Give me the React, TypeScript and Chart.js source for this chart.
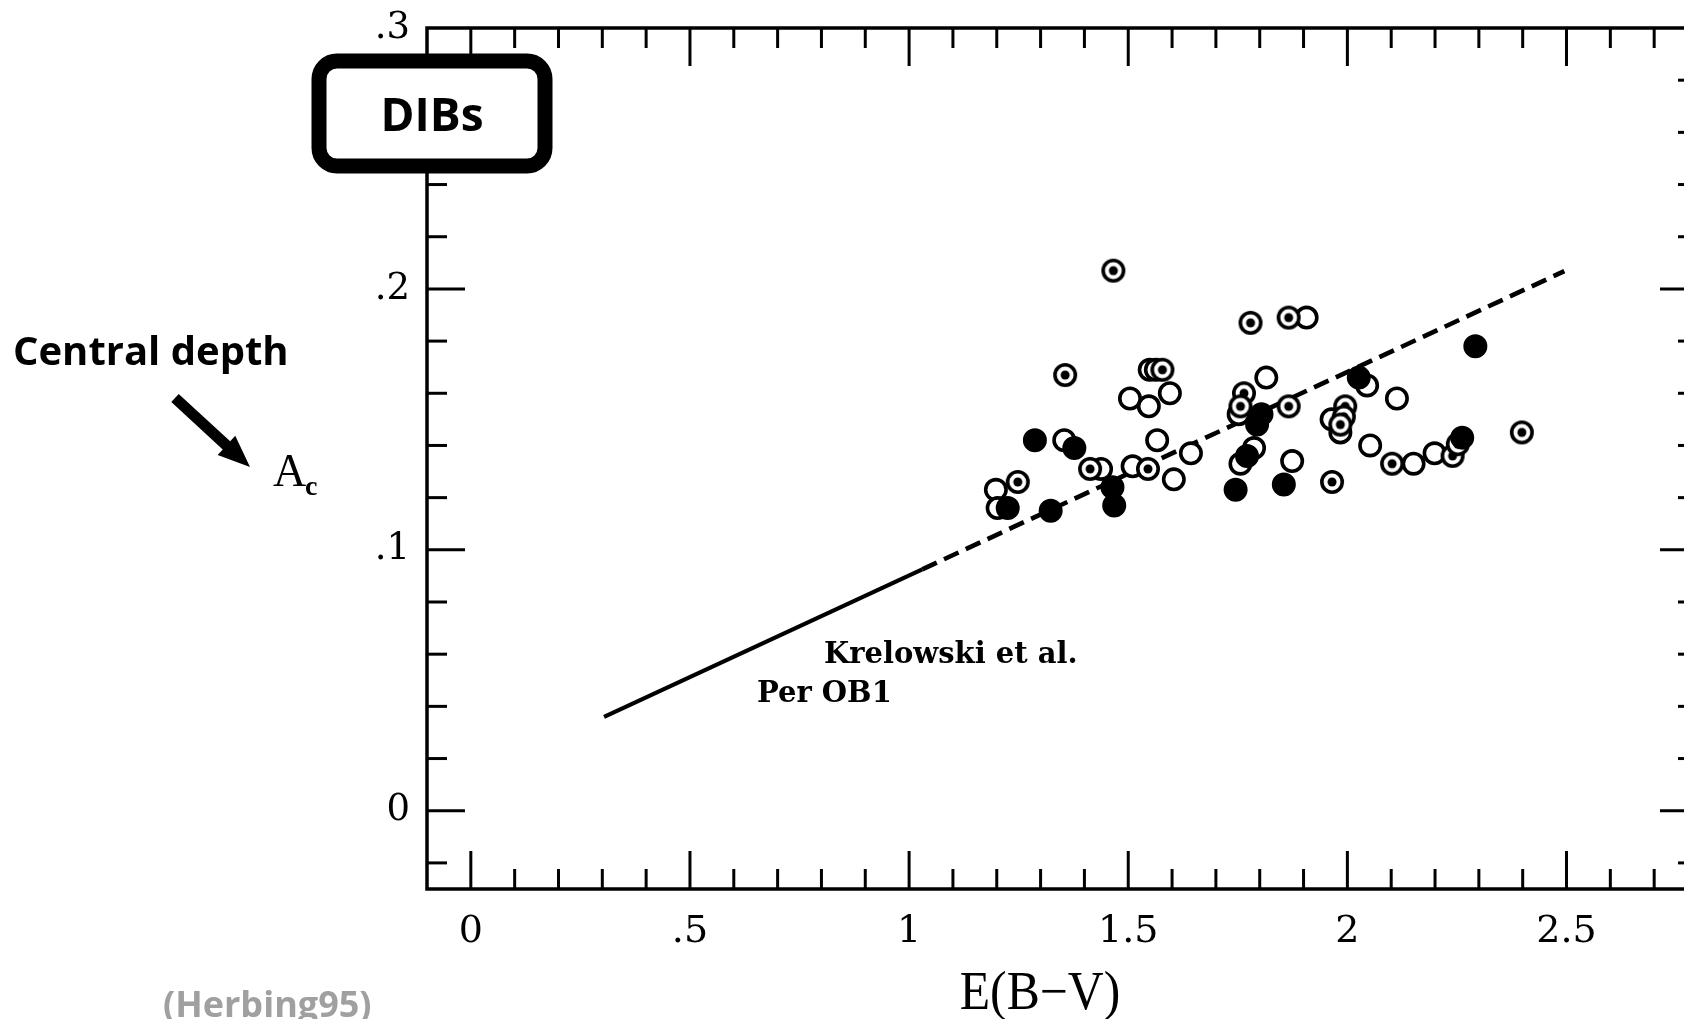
import React, { useEffect, useRef } from "react";
import { Chart, registerables } from "chart.js";

Chart.register(...registerables);

// ---- axis ticks ----
const xTickValues = [0, 0.5, 1, 1.5, 2, 2.5];
const xTickLabels = ["0", ".5", "1", "1.5", "2", "2.5"];
const yTickValues = [0, 0.1, 0.2, 0.3];
const yTickLabels = ["0", ".1", ".2", ".3"];

// ---- data: open circles ----
const openX = [1.198, 1.202, 1.354, 1.438, 1.51, 1.566, 1.604, 1.643, 1.504, 1.547, 1.595, 1.549, 1.563, 1.815, 1.752, 1.787, 1.756, 1.874, 1.907, 1.964, 1.984, 2.045, 2.052, 2.113, 2.151, 2.199];
const openY = [0.123, 0.116, 0.142, 0.131, 0.132, 0.142, 0.127, 0.137, 0.158, 0.155, 0.16, 0.169, 0.169, 0.166, 0.152, 0.139, 0.133, 0.134, 0.189, 0.15, 0.145, 0.163, 0.14, 0.158, 0.133, 0.137];

// ---- data: circles with central dot ----
const dotX = [1.248, 1.356, 1.413, 1.466, 1.545, 1.578, 1.764, 1.756, 1.779, 1.866, 1.866, 1.995, 1.992, 1.984, 2.102, 2.24, 2.252, 1.965, 2.398];
const dotY = [0.126, 0.167, 0.131, 0.207, 0.131, 0.169, 0.16, 0.155, 0.187, 0.189, 0.155, 0.155, 0.151, 0.148, 0.133, 0.136, 0.1405, 0.126, 0.145];

// ---- data: filled circles ----
const filledX = [1.225, 1.287, 1.323, 1.377, 1.464, 1.468, 1.745, 1.771, 1.804, 1.794, 1.855, 2.026, 2.262, 2.292];
const filledY = [0.116, 0.142, 0.115, 0.139, 0.124, 0.117, 0.123, 0.136, 0.152, 0.148, 0.125, 0.166, 0.143, 0.178];

// ---- Krelowski et al. Per OB1 relation ----
const solidLineX = [0.304, 1.03];
const solidLineY = [0.036, 0.0925];
const dashedLineX = [1.03, 2.495];
const dashedLineY = [0.0925, 0.2068];

const CANVAS_W = 1730;
const CANVAS_H = 1019;

function pts(xs: number[], ys: number[]) {
  return xs.map((x, i) => ({ x, y: ys[i] }));
}

function makeBullseye(): HTMLCanvasElement {
  const c = document.createElement("canvas");
  c.width = 28;
  c.height = 28;
  const g = c.getContext("2d")!;
  g.beginPath();
  g.arc(14, 14, 10.2, 0, Math.PI * 2);
  g.fillStyle = "#fff";
  g.fill();
  g.lineWidth = 3.6;
  g.strokeStyle = "#000";
  g.stroke();
  g.beginPath();
  g.arc(14, 14, 4.5, 0, Math.PI * 2);
  g.fillStyle = "#000";
  g.fill();
  return c;
}

const framePlugin = {
  id: "frame",
  afterDatasetsDraw(chart: any) {
    const { ctx, chartArea, scales } = chart;
    const { left, right, top, bottom } = chartArea;
    const x = scales.x;
    const y = scales.y;
    ctx.save();
    ctx.strokeStyle = "#000";
    ctx.lineWidth = 3.5;
    ctx.strokeRect(left, top, right - left, bottom - top);
    ctx.lineWidth = 3;
    const seg = (x1: number, y1: number, x2: number, y2: number) => {
      ctx.beginPath();
      ctx.moveTo(x1, y1);
      ctx.lineTo(x2, y2);
      ctx.stroke();
    };
    for (let i = 0; i <= 27; i++) {
      const px = x.getPixelForValue(i / 10);
      const len = i % 5 === 0 ? 38 : 20;
      seg(px, bottom, px, bottom - len);
      seg(px, top, px, top + len);
    }
    for (let i = -1; i <= 14; i++) {
      const py = y.getPixelForValue(i * 0.02);
      const len = i % 5 === 0 ? 38 : 20;
      seg(left, py, left + len, py);
      seg(right, py, right - len, py);
    }
    ctx.restore();
  },
};

const annotationPlugin = {
  id: "annotations",
  afterDraw(chart: any) {
    const ctx = chart.ctx as CanvasRenderingContext2D;
    ctx.save();

    // DIBs box
    ctx.beginPath();
    (ctx as any).roundRect(319, 61, 226, 105, 18);
    ctx.fillStyle = "#fff";
    ctx.fill();
    ctx.lineWidth = 15;
    ctx.strokeStyle = "#000";
    ctx.stroke();
    ctx.fillStyle = "#000";
    ctx.font = "bold 46px 'Open Sans'";
    ctx.textAlign = "center";
    ctx.textBaseline = "alphabetic";
    ctx.fillText("DIBs", 432, 131);

    // Central depth
    ctx.textAlign = "left";
    ctx.font = "bold 40px 'Open Sans'";
    ctx.fillText("Central depth", 13, 365);

    // arrow
    const tx = 250, ty = 467;
    const sx = 175, sy = 398;
    const dx = tx - sx, dy = ty - sy;
    const L = Math.hypot(dx, dy);
    const ux = dx / L, uy = dy / L;
    const px = -uy, py = ux;
    const headLen = 32, headHalf = 13, shaftHalf = 5.5;
    const bx = tx - ux * headLen, by = ty - uy * headLen;
    ctx.beginPath();
    ctx.moveTo(sx + px * shaftHalf, sy + py * shaftHalf);
    ctx.lineTo(bx + px * shaftHalf, by + py * shaftHalf);
    ctx.lineTo(bx + px * headHalf, by + py * headHalf);
    ctx.lineTo(tx, ty);
    ctx.lineTo(bx - px * headHalf, by - py * headHalf);
    ctx.lineTo(bx - px * shaftHalf, by - py * shaftHalf);
    ctx.lineTo(sx - px * shaftHalf, sy - py * shaftHalf);
    ctx.closePath();
    ctx.fill();

    // A_c
    ctx.font = "46px 'Liberation Serif'";
    ctx.fillText("A", 273, 486);
    ctx.font = "bold 28px 'Liberation Serif'";
    ctx.fillText("c", 305, 495);

    // Krelowski et al. / Per OB1
    ctx.font = "bold 29px 'DejaVu Serif'";
    ctx.fillText("Krelowski et al.", 824, 663);
    ctx.fillText("Per OB1", 757, 702);

    // x-axis title
    ctx.save();
    ctx.font = "54px 'Liberation Serif'";
    ctx.textAlign = "center";
    ctx.translate(1040, 1009);
    ctx.scale(0.92, 1);
    ctx.fillText("E(B\u2212V)", 0, 0);
    ctx.restore();

    // source
    ctx.fillStyle = "#a0a0a0";
    ctx.font = "bold 36px 'Open Sans'";
    ctx.textAlign = "left";
    ctx.fillText("(Herbing95)", 163, 1017);

    ctx.restore();
  },
};

export default function App() {
  const canvasRef = useRef<HTMLCanvasElement | null>(null);

  useEffect(() => {
    const canvas = canvasRef.current;
    if (!canvas) return;
    const bullseye = makeBullseye();
    const chart = new Chart(canvas, {
      type: "scatter",
      data: {
        datasets: [
          {
            label: "filled",
            data: pts(filledX, filledY),
            pointRadius: 10.2,
            pointBorderWidth: 3.6,
            pointBackgroundColor: "#000",
            pointBorderColor: "#000",
            order: 1,
          },
          {
            label: "dotted",
            data: pts(dotX, dotY),
            pointStyle: bullseye as any,
            pointRadius: 10,
            order: 2,
          },
          {
            label: "open",
            data: pts(openX, openY),
            pointRadius: 10.2,
            pointBorderWidth: 3.6,
            pointBackgroundColor: "#fff",
            pointBorderColor: "#000",
            order: 3,
          },
          {
            label: "solid",
            data: pts(solidLineX, solidLineY),
            showLine: true,
            pointRadius: 0,
            borderColor: "#000",
            borderWidth: 4.2,
            fill: false,
            order: 4,
          } as any,
          {
            label: "dashed",
            data: pts(dashedLineX, dashedLineY),
            showLine: true,
            pointRadius: 0,
            borderColor: "#000",
            borderWidth: 4.6,
            borderDash: [16, 8],
            fill: false,
            order: 4,
          } as any,
        ],
      },
      options: {
        animation: false,
        responsive: false,
        devicePixelRatio: 1,
        events: [],
        layout: { padding: { left: 0, top: 28, right: CANVAS_W - 1698, bottom: 0 } },
        plugins: {
          legend: { display: false },
          tooltip: { enabled: false },
          title: { display: false },
        },
        scales: {
          x: {
            type: "linear",
            min: -0.1,
            max: 2.8,
            border: { display: false },
            grid: { display: false, drawTicks: false },
            afterBuildTicks: (scale: any) => {
              scale.ticks = xTickValues.map((v) => ({ value: v }));
            },
            afterFit: (scale: any) => {
              scale.height = 130;
              scale.paddingLeft = 0;
              scale.paddingRight = 0;
            },
            ticks: {
              autoSkip: false,
              maxRotation: 0,
              padding: 20,
              color: "#000",
              font: { family: "'DejaVu Serif'", size: 38 },
              callback: (_v: any, i: number) => xTickLabels[i],
            },
          },
          y: {
            type: "linear",
            min: -0.03,
            max: 0.3,
            border: { display: false },
            grid: { display: false, drawTicks: false },
            afterBuildTicks: (scale: any) => {
              scale.ticks = yTickValues.map((v) => ({ value: v }));
            },
            afterFit: (scale: any) => {
              scale.width = 427;
              scale.paddingTop = 0;
              scale.paddingBottom = 0;
            },
            ticks: {
              autoSkip: false,
              padding: 17,
              color: "#000",
              font: { family: "'DejaVu Serif'", size: 37 },
              callback: (_v: any, i: number) => yTickLabels[i],
            },
          },
        },
      } as any,
      plugins: [framePlugin, annotationPlugin],
    });
    return () => chart.destroy();
  }, []);

  return (
    <div
      style={{
        position: "fixed",
        left: 0,
        top: 0,
        width: 1684,
        height: 1019,
        overflow: "hidden",
        background: "#fff",
      }}
    >
      <canvas
        ref={canvasRef}
        width={CANVAS_W}
        height={CANVAS_H}
        style={{ display: "block", width: CANVAS_W, height: CANVAS_H }}
      />
    </div>
  );
}
